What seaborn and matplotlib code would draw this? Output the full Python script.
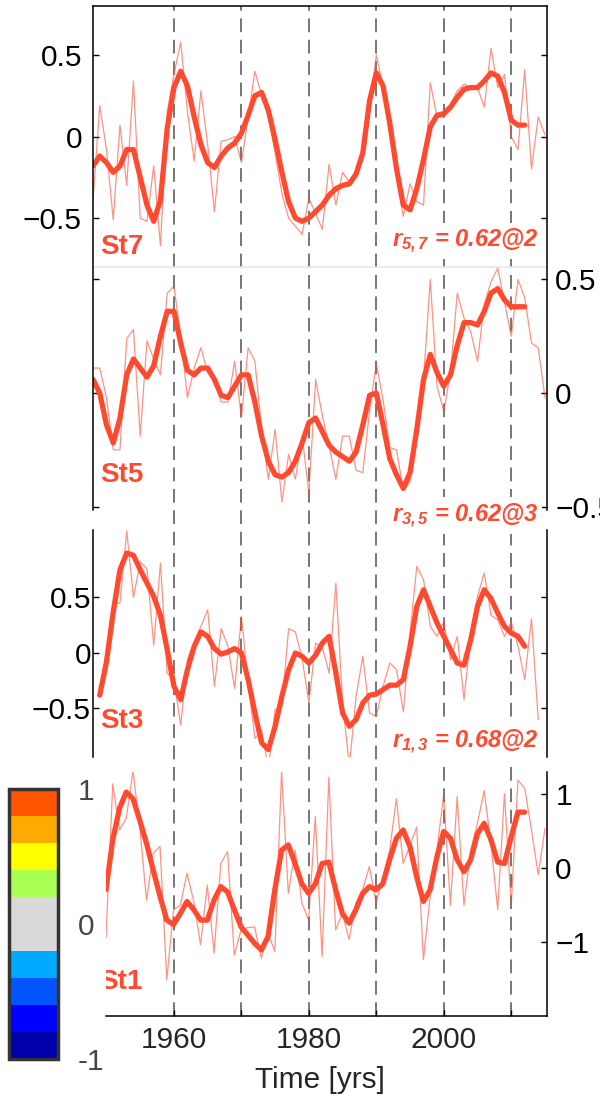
"""Stacked station time series (St7, St5, St3, St1) with a discrete colour key."""
import matplotlib

matplotlib.use("Agg")
import matplotlib.pyplot as plt
import seaborn as sns
from matplotlib.cm import ScalarMappable
from matplotlib.colors import BoundaryNorm, ListedColormap

# --------------------------------------------------------------------------- #
# Data
# --------------------------------------------------------------------------- #
ST7_YEARS = list(range(1948, 2016))
ST7_ANNUAL = [
    -0.39, 0.19, -0.08, -0.51, 0.07, -0.30, 0.34, -0.50, -0.52, -0.18,
    -0.67, 0.15, 0.38, 0.58, 0.15, -0.15, 0.28, -0.05, -0.46, -0.03,
    -0.02, 0.00, -0.16, 0.12, 0.40, 0.25, 0.12, -0.10, -0.35, -0.50,
    -0.55, -0.60, -0.38, -0.47, -0.57, -0.17, -0.42, -0.22, -0.28, -0.25,
    -0.10, 0.15, 0.50, 0.30, 0.05, -0.25, -0.49, -0.29, -0.40, -0.42,
    0.33, 0.12, 0.12, 0.20, 0.28, 0.32, 0.30, 0.30, 0.18, 0.54,
    0.30, 0.38, 0.00, -0.08, 0.41, -0.20, 0.12, 0.01,
]
ST7_SMOOTH_YEARS = list(range(1948, 2013))
ST7_SMOOTH = [
    -0.18, -0.12, -0.16, -0.22, -0.18, -0.08, -0.08, -0.25, -0.42, -0.52,
    -0.39, 0.05, 0.30, 0.40, 0.31, 0.12, -0.05, -0.16, -0.19, -0.12,
    -0.07, -0.04, 0.02, 0.13, 0.25, 0.27, 0.16, -0.02, -0.22, -0.40,
    -0.50, -0.52, -0.50, -0.46, -0.42, -0.36, -0.32, -0.30, -0.29, -0.23,
    -0.10, 0.22, 0.39, 0.31, 0.08, -0.20, -0.42, -0.45, -0.32, -0.14,
    0.06, 0.13, 0.14, 0.18, 0.24, 0.29, 0.30, 0.30, 0.34, 0.39,
    0.37, 0.27, 0.10, 0.07, 0.07,
]

ST5_YEARS = list(range(1948, 2016))
ST5_ANNUAL = [
    0.11, 0.11, -0.02, -0.25, -0.25, 0.24, 0.28, -0.19, 0.23, 0.15,
    0.08, 0.44, 0.47, 0.25, -0.02, 0.11, 0.20, 0.09, 0.06, -0.04,
    -0.04, 0.14, -0.11, 0.20, 0.14, -0.16, -0.38, -0.16, -0.48, -0.27,
    -0.38, -0.19, -0.44, 0.06, -0.10, -0.23, -0.38, -0.19, -0.19, -0.34,
    -0.35, -0.08, 0.13, -0.03, -0.24, -0.25, -0.43, -0.39, -0.18, 0.06,
    0.50, 0.03, -0.08, 0.09, 0.44, 0.33, 0.27, 0.14, 0.39, 0.49,
    0.55, 0.40, 0.25, 0.50, 0.42, 0.22, 0.20, -0.02,
]
ST5_SMOOTH_YEARS = list(range(1948, 2013))
ST5_SMOOTH = [
    0.06, 0.00, -0.14, -0.22, -0.11, 0.08, 0.15, 0.11, 0.07, 0.12,
    0.25, 0.36, 0.36, 0.22, 0.10, 0.08, 0.11, 0.11, 0.06, -0.01,
    -0.02, 0.03, 0.08, 0.08, -0.04, -0.19, -0.30, -0.36, -0.37, -0.35,
    -0.30, -0.22, -0.13, -0.11, -0.17, -0.23, -0.26, -0.28, -0.30, -0.26,
    -0.14, -0.01, 0.00, -0.14, -0.29, -0.36, -0.42, -0.35, -0.16, 0.06,
    0.17, 0.09, 0.03, 0.08, 0.21, 0.31, 0.31, 0.30, 0.36, 0.44,
    0.46, 0.41, 0.38, 0.38, 0.38,
]

ST3_YEARS = list(range(1949, 2015))
ST3_ANNUAL = [
    -0.38, -0.05, 0.45, 0.45, 1.10, 0.50, 0.82, 0.76, 0.07, 0.81,
    -0.18, -0.25, -0.65, -0.06, 0.10, 0.24, 0.39, -0.30, 0.22, 0.06,
    -0.32, 0.33, -0.26, -0.77, -0.70, -1.04, -0.51, -0.48, 0.22, 0.19,
    -0.05, -0.45, 0.09, 0.05, -0.18, 0.63, -0.45, -1.02, -0.39, -0.03,
    -0.54, -0.57, -0.30, -0.09, -0.15, -0.53, 0.18, 0.78, 0.66, 0.24,
    0.15, 0.28, -0.06, 0.15, -0.42, 0.18, 0.51, 0.72, 0.34, 0.30,
    0.15, 0.28, 0.06, -0.24, 0.31, -0.60,
]
ST3_SMOOTH_YEARS = list(range(1949, 2013))
ST3_SMOOTH = [
    -0.38, -0.08, 0.37, 0.75, 0.90, 0.88, 0.75, 0.63, 0.51, 0.34,
    0.03, -0.30, -0.42, -0.15, 0.06, 0.19, 0.15, 0.04, -0.01, 0.01,
    0.04, 0.00, -0.24, -0.54, -0.81, -0.87, -0.66, -0.39, -0.15, 0.00,
    -0.03, -0.09, -0.02, 0.09, 0.15, -0.18, -0.54, -0.66, -0.60, -0.45,
    -0.38, -0.37, -0.33, -0.29, -0.29, -0.24, 0.06, 0.42, 0.57, 0.42,
    0.27, 0.15, 0.03, -0.09, -0.11, 0.12, 0.42, 0.57, 0.49, 0.36,
    0.24, 0.18, 0.15, 0.06,
]

ST1_YEARS = list(range(1950, 2016))
ST1_ANNUAL = [
    -0.94, 1.13, 0.51, 0.67, 1.30, 0.55, -0.43, 0.20, 0.29, -1.50,
    -0.56, -0.50, -0.07, -0.45, -1.03, -0.23, -1.14, 0.06, 0.22, -1.17,
    -0.83, -0.80, -0.79, -1.21, -0.88, -1.12, 1.30, -0.34, 0.24, -0.47,
    -0.70, 0.69, -1.19, 1.22, -0.83, -0.61, -0.96, -0.47, -0.29, 0.02,
    -0.47, -0.12, 0.24, 0.93, 0.06, 0.30, 0.55, -1.23, -0.38, 0.24,
    0.98, -0.50, 0.96, -0.50, 0.24, 0.60, 1.04, 0.33, -0.56, 1.00,
    -0.50, 1.18, 1.07, 0.51, -0.09, 0.53,
]
ST1_SMOOTH_YEARS = list(range(1950, 2013))
ST1_SMOOTH = [
    -0.29, 0.38, 0.80, 1.02, 0.93, 0.64, 0.33, -0.03, -0.38, -0.70,
    -0.76, -0.61, -0.45, -0.56, -0.70, -0.70, -0.43, -0.25, -0.32, -0.56,
    -0.79, -0.90, -1.01, -1.10, -0.92, -0.29, 0.24, 0.31, 0.06, -0.21,
    -0.34, -0.21, 0.06, 0.08, -0.29, -0.61, -0.74, -0.56, -0.34, -0.25,
    -0.29, -0.21, 0.11, 0.40, 0.51, 0.29, -0.12, -0.45, -0.29, 0.15,
    0.49, 0.40, 0.11, -0.05, 0.11, 0.46, 0.60, 0.38, 0.08, 0.06,
    0.42, 0.75, 0.75,
]

STATION_LABELS = ["St7", "St5", "St3", "St1"]
CORR_LABELS = [r"$r_{5,7}$ = 0.62@2", r"$r_{3,5}$ = 0.62@3", r"$r_{1,3}$ = 0.68@2"]

HALF_TICKS = [-0.5, 0, 0.5]
HALF_TICK_LABELS = ["\u22120.5", "0", "0.5"]
UNIT_TICKS = [-1, 0, 1]
UNIT_TICK_LABELS = ["\u22121", "0", "1"]
DECADES = [1960, 1970, 1980, 1990, 2000, 2010]
X_TICKS = [1960, 1980, 2000]
X_MINOR_TICKS = [1970, 1990, 2010]

CBAR_BOUNDS = [-1, -0.8, -0.6, -0.4, -0.2, 0, 0.2, 0.4, 0.6, 0.8, 1]
CBAR_COLORS = ["#0000AA", "#0000FF", "#0055FF", "#00AAFF", "#D9D9D9",
               "#D9D9D9", "#AAFF55", "#FFFF00", "#FFAA00", "#FF5500"]
CBAR_TICKS = [-1, 0, 1]
CBAR_TICK_LABELS = ["-1", "0", "1"]

# --------------------------------------------------------------------------- #
# Style
# --------------------------------------------------------------------------- #
sns.set_theme(style="white")
plt.rcParams["font.family"] = ["Liberation Sans", "DejaVu Sans"]
plt.rcParams["mathtext.fontset"] = "custom"
for key in ("mathtext.it", "mathtext.rm", "mathtext.bf"):
    plt.rcParams[key] = "Liberation Sans:italic:bold"

RED = "#FF4A30"
TICK_FS = 21.5
W, H = 600, 1100
XLIM = (1948, 2015.3)


def rect(left, top, right, bottom):
    """Pixel box -> figure fraction [l, b, w, h]."""
    return [left / W, 1 - bottom / H, (right - left) / W, (bottom - top) / H]


def panel(box, xlim, ylim, yrs, annual, s_yrs, smooth):
    ax = fig.add_axes(rect(*box), facecolor="none")
    sns.lineplot(x=yrs, y=annual, ax=ax, color=RED, lw=0.9, alpha=0.6, errorbar=None)
    sns.lineplot(x=s_yrs, y=smooth, ax=ax, color=RED, lw=3.8, errorbar=None)
    ax.set(xlim=xlim, ylim=ylim, xlabel="", ylabel="")
    for sp in ax.spines.values():
        sp.set_color("black")
        sp.set_linewidth(1.1)
        sp.set_visible(False)
    ax.tick_params(axis="x", bottom=False, top=False, labelbottom=False)
    ax.tick_params(axis="y", direction="in", length=4, width=1, color="black",
                   labelsize=TICK_FS, labelcolor="black")
    return ax


fig = plt.figure(figsize=(W / 100, H / 100), dpi=100)

# dashed decade markers behind all panels
axd = fig.add_axes(rect(93, 6, 547, 1016))
axd.set_xlim(*XLIM)
axd.axis("off")
for yr in DECADES:
    axd.axvline(yr, color="#333333", lw=1.1, alpha=0.85, dashes=(9, 5))

# --- St7 -------------------------------------------------------------------
ax7 = panel((93, 6, 547, 267), XLIM, (-0.8, 0.8),
            ST7_YEARS, ST7_ANNUAL, ST7_SMOOTH_YEARS, ST7_SMOOTH)
for side in ("top", "left", "right", "bottom"):
    ax7.spines[side].set_visible(True)
ax7.spines["bottom"].set_color("#e6e6e6")
ax7.set_yticks(HALF_TICKS, HALF_TICK_LABELS)
ax7.tick_params(axis="y", left=True, right=True, labelleft=True, labelright=False, pad=8)

# --- St5 (its right-hand labels run off the figure edge, as in the original)
ax5 = panel((93, 267, 547, 510), XLIM, (-0.515, 0.555),
            ST5_YEARS, ST5_ANNUAL, ST5_SMOOTH_YEARS, ST5_SMOOTH)
ax5.spines["left"].set_visible(True)
ax5.spines["right"].set_visible(True)
ax5.set_yticks(HALF_TICKS, HALF_TICK_LABELS)
ax5.tick_params(axis="y", left=True, right=True, labelleft=False, labelright=True, pad=6)

# --- St3 -------------------------------------------------------------------
ax3 = panel((93, 530, 547, 757), XLIM, (-0.937, 1.108),
            ST3_YEARS, ST3_ANNUAL, ST3_SMOOTH_YEARS, ST3_SMOOTH)
ax3.spines["left"].set_visible(True)
ax3.spines["right"].set_visible(True)
ax3.set_yticks(HALF_TICKS, HALF_TICK_LABELS)
ax3.tick_params(axis="y", left=True, right=True, labelleft=True, labelright=False, pad=1.5)

# --- St1 -------------------------------------------------------------------
ax1 = panel((106, 772, 547, 1016), (1950, XLIM[1]), (-1.987, 1.289),
            ST1_YEARS, ST1_ANNUAL, ST1_SMOOTH_YEARS, ST1_SMOOTH)
ax1.spines["right"].set_visible(True)
ax1.spines["bottom"].set_visible(True)
ax1.set_yticks(UNIT_TICKS, UNIT_TICK_LABELS)
ax1.tick_params(axis="y", left=False, right=True, labelleft=False, labelright=True, pad=6)
ax1.set_xticks(X_TICKS)
ax1.set_xticks(X_MINOR_TICKS, minor=True)
ax1.tick_params(axis="x", which="both", bottom=True, labelbottom=True, direction="in",
                length=4, width=1, color="black", labelsize=TICK_FS, pad=7)
fig.text(320 / W, 1 - 1080 / H, "Time [yrs]", ha="center", va="center", fontsize=TICK_FS)

# --- station names and lag correlations --------------------------------------
name_y = [-0.72, -0.39, -0.68, -1.62]
for ax, name, y in zip((ax7, ax5, ax3, ax1), STATION_LABELS, name_y):
    ax.text(1949.0, y, name, color=RED, fontsize=20, fontweight="bold",
            ha="left", va="baseline", clip_on=True)

corr_y = [-0.675, -0.564, -0.856]
for ax, label, y in zip((ax7, ax5, ax3), CORR_LABELS, corr_y):
    ax.text(2014.0, y, label, color=RED, fontsize=17, fontweight="bold", fontstyle="italic",
            ha="right", va="baseline",
            bbox=dict(facecolor="white", edgecolor="none", pad=3))

# --- discrete colour key ----------------------------------------------------
cax = fig.add_axes(rect(9, 789, 58, 1059))
cmap = ListedColormap(CBAR_COLORS)
norm = BoundaryNorm(CBAR_BOUNDS, cmap.N)
cb = fig.colorbar(ScalarMappable(norm=norm, cmap=cmap), cax=cax, ticks=CBAR_TICKS)
cb.ax.minorticks_off()
cb.ax.set_yticks(CBAR_TICKS, CBAR_TICK_LABELS)
cb.outline.set_linewidth(2.5)
cb.outline.set_edgecolor("#333333")
cb.ax.tick_params(which="both", direction="in", length=0, labelsize=TICK_FS,
                  labelcolor="#444444", pad=14)

fig.savefig("out.png", dpi=100)
plt.close(fig)
